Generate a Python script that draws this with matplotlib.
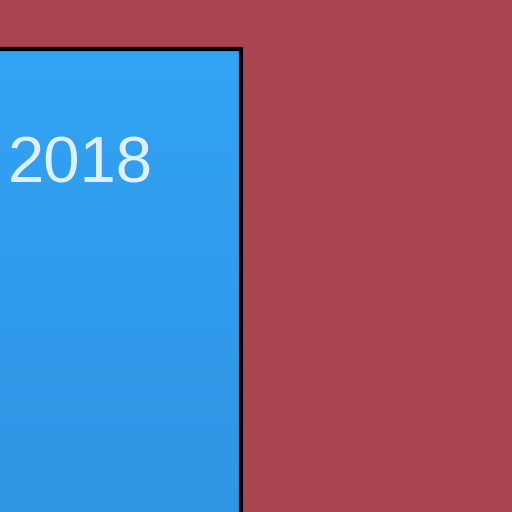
import numpy as np
import matplotlib.pyplot as plt
from matplotlib.colors import LinearSegmentedColormap

# data
categories = ['2018']
values = [100]

fig = plt.figure(figsize=(5.12, 5.12), dpi=100)
fig.patch.set_facecolor('#a9454f')
ax = fig.add_axes([0, 0, 1, 1])
ax.set_facecolor('#a9454f')

bars = ax.bar(range(len(categories)), values, width=0.8, color='none',
              edgecolor='black', linewidth=3, zorder=3)

ax.set_xlim(-0.2, 1.0747)
ax.set_ylim(50, 105.29)

# vertical gradient inside the bar
cmap = LinearSegmentedColormap.from_list('blue', ['#2a88d6', '#33a3f3'])
grad = np.linspace(0, 1, 256).reshape(-1, 1)
for b in bars:
    x0, w, h = b.get_x(), b.get_width(), b.get_height()
    im = ax.imshow(grad, extent=[x0, x0 + w, 0, h], origin='lower',
                   cmap=cmap, aspect='auto', zorder=2)
    im.set_clip_path(b)

ax.set_xlim(-0.2, 1.0747)
ax.set_ylim(50, 105.29)

for i, c in enumerate(categories):
    ax.text(0.016, 0.6426, c, transform=ax.transAxes, color='white', alpha=0.85,
            fontsize=47, family='Liberation Sans', ha='left', va='baseline', zorder=4)

ax.axis('off')
fig.savefig('out.png', dpi=100, facecolor=fig.get_facecolor())
